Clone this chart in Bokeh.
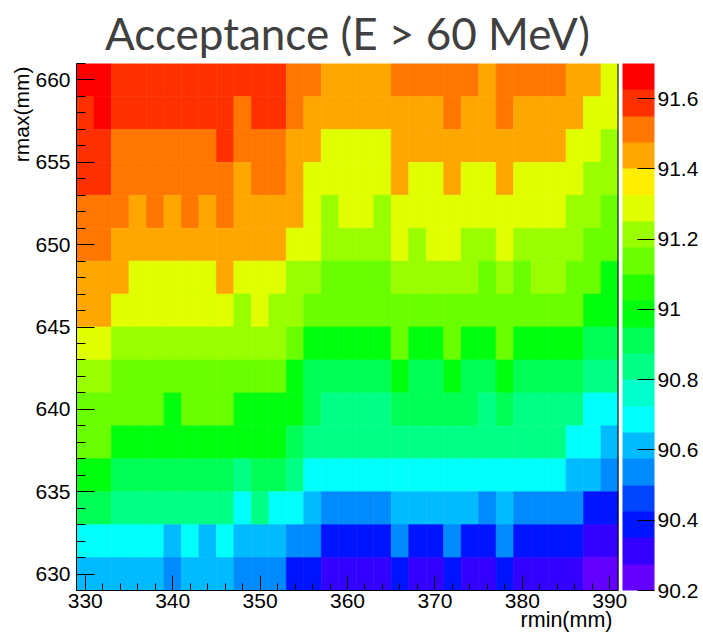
from bokeh.plotting import figure
from bokeh.models import (LinearColorMapper, ColorBar, FixedTicker, Range1d,
                          Title, Span, CustomJSTickFormatter, ColumnDataSource)
from bokeh.transform import transform
from bokeh.embed import file_html
from bokeh.resources import INLINE

# Bin centres (mm); every bin is 2 mm wide in both directions
rmin_bins = [330, 332, 334, 336, 338, 340, 342, 344, 346, 348, 350, 352, 354, 356, 358, 360,
             362, 364, 366, 368, 370, 372, 374, 376, 378, 380, 382, 384, 386, 388, 390]
rmax_bins = [660, 658, 656, 654, 652, 650, 648, 646, 644, 642, 640, 638, 636, 634, 632, 630]

# Acceptance (%) for E > 60 MeV, one list per rmax bin (top row first), indexed by rmin
acc_660 = [91.66, 91.66, 91.59, 91.59, 91.59, 91.59, 91.59, 91.59, 91.59, 91.59, 91.59, 91.59,
           91.51, 91.51, 91.44, 91.44, 91.44, 91.44, 91.51, 91.51, 91.51, 91.51, 91.51, 91.44,
           91.51, 91.51, 91.51, 91.51, 91.44, 91.44, 91.29]
acc_658 = [91.59, 91.66, 91.59, 91.59, 91.59, 91.59, 91.59, 91.59, 91.59, 91.51, 91.59, 91.59,
           91.51, 91.44, 91.44, 91.44, 91.44, 91.44, 91.44, 91.44, 91.44, 91.51, 91.44, 91.44,
           91.51, 91.44, 91.44, 91.44, 91.44, 91.29, 91.29]
acc_656 = [91.59, 91.59, 91.51, 91.51, 91.51, 91.51, 91.51, 91.51, 91.59, 91.51, 91.51, 91.51,
           91.44, 91.44, 91.29, 91.29, 91.29, 91.29, 91.44, 91.44, 91.44, 91.44, 91.44, 91.44,
           91.44, 91.44, 91.44, 91.44, 91.29, 91.29, 91.21]
acc_654 = [91.59, 91.59, 91.51, 91.51, 91.51, 91.51, 91.51, 91.51, 91.51, 91.44, 91.51, 91.51,
           91.44, 91.29, 91.29, 91.29, 91.29, 91.29, 91.44, 91.29, 91.29, 91.44, 91.29, 91.29,
           91.44, 91.29, 91.29, 91.29, 91.29, 91.21, 91.21]
acc_652 = [91.51, 91.51, 91.51, 91.44, 91.51, 91.44, 91.51, 91.44, 91.51, 91.44, 91.44, 91.44,
           91.44, 91.29, 91.21, 91.29, 91.29, 91.21, 91.29, 91.29, 91.29, 91.29, 91.29, 91.29,
           91.29, 91.29, 91.29, 91.29, 91.21, 91.21, 91.14]
acc_650 = [91.51, 91.51, 91.44, 91.44, 91.44, 91.44, 91.44, 91.44, 91.44, 91.44, 91.44, 91.44,
           91.29, 91.29, 91.21, 91.21, 91.21, 91.21, 91.29, 91.21, 91.29, 91.29, 91.21, 91.21,
           91.29, 91.21, 91.21, 91.21, 91.21, 91.14, 91.14]
acc_648 = [91.44, 91.44, 91.44, 91.29, 91.29, 91.29, 91.29, 91.29, 91.44, 91.29, 91.29, 91.29,
           91.21, 91.21, 91.14, 91.14, 91.14, 91.14, 91.21, 91.21, 91.21, 91.21, 91.21, 91.14,
           91.21, 91.14, 91.21, 91.21, 91.14, 91.14, 90.99]
acc_646 = [91.44, 91.44, 91.29, 91.29, 91.29, 91.29, 91.29, 91.29, 91.29, 91.21, 91.29, 91.21,
           91.21, 91.14, 91.14, 91.14, 91.14, 91.14, 91.14, 91.14, 91.14, 91.14, 91.14, 91.14,
           91.14, 91.14, 91.14, 91.14, 91.14, 90.99, 90.99]
acc_644 = [91.29, 91.29, 91.21, 91.21, 91.21, 91.21, 91.21, 91.21, 91.21, 91.21, 91.21, 91.21,
           91.14, 90.99, 90.99, 90.99, 90.99, 90.99, 91.14, 90.99, 90.99, 91.14, 90.99, 90.99,
           91.14, 90.99, 90.99, 90.99, 90.99, 90.91, 90.91]
acc_642 = [91.21, 91.21, 91.14, 91.14, 91.14, 91.14, 91.14, 91.14, 91.14, 91.14, 91.14, 91.14,
           90.99, 90.91, 90.91, 90.91, 90.91, 90.91, 90.99, 90.91, 90.91, 90.99, 90.91, 90.91,
           90.99, 90.91, 90.91, 90.91, 90.91, 90.84, 90.84]
acc_640 = [91.14, 91.14, 91.14, 91.14, 91.14, 90.99, 91.14, 91.14, 91.14, 90.99, 90.99, 90.99,
           90.99, 90.91, 90.84, 90.84, 90.84, 90.84, 90.91, 90.91, 90.91, 90.91, 90.91, 90.84,
           90.91, 90.84, 90.84, 90.84, 90.84, 90.69, 90.69]
acc_638 = [91.14, 91.14, 90.99, 90.99, 90.99, 90.99, 90.99, 90.99, 90.99, 90.99, 90.99, 90.99,
           90.91, 90.84, 90.84, 90.84, 90.84, 90.84, 90.84, 90.84, 90.84, 90.84, 90.84, 90.84,
           90.84, 90.84, 90.84, 90.84, 90.69, 90.69, 90.61]
acc_636 = [90.99, 90.99, 90.91, 90.91, 90.91, 90.91, 90.91, 90.91, 90.91, 90.84, 90.91, 90.91,
           90.84, 90.69, 90.69, 90.69, 90.69, 90.69, 90.69, 90.69, 90.69, 90.69, 90.69, 90.69,
           90.69, 90.69, 90.69, 90.69, 90.61, 90.61, 90.54]
acc_634 = [90.91, 90.91, 90.84, 90.84, 90.84, 90.84, 90.84, 90.84, 90.84, 90.69, 90.84, 90.69,
           90.69, 90.61, 90.54, 90.54, 90.54, 90.54, 90.61, 90.61, 90.61, 90.61, 90.61, 90.54,
           90.61, 90.54, 90.54, 90.54, 90.54, 90.39, 90.39]
acc_632 = [90.69, 90.69, 90.69, 90.69, 90.69, 90.61, 90.69, 90.61, 90.69, 90.61, 90.61, 90.61,
           90.54, 90.54, 90.39, 90.39, 90.39, 90.39, 90.54, 90.39, 90.39, 90.54, 90.39, 90.39,
           90.54, 90.39, 90.39, 90.39, 90.39, 90.31, 90.31]
acc_630 = [90.61, 90.61, 90.61, 90.61, 90.61, 90.54, 90.61, 90.61, 90.61, 90.54, 90.54, 90.54,
           90.39, 90.39, 90.31, 90.31, 90.31, 90.31, 90.39, 90.31, 90.31, 90.39, 90.31, 90.31,
           90.39, 90.31, 90.31, 90.31, 90.31, 90.24, 90.24]

acceptance_rows = [acc_660, acc_658, acc_656, acc_654, acc_652, acc_650, acc_648, acc_646,
                   acc_644, acc_642, acc_640, acc_638, acc_636, acc_634, acc_632, acc_630]

# Colour scale: 20 contour levels between these limits
z_min, z_max = 90.2, 91.7
palette = ["#6300FF", "#3300FF", "#0014FF", "#0044FF", "#008BFF",
           "#00BBFF", "#00FFFC", "#00FFCC", "#00FF85", "#00FF55",
           "#00FF0E", "#22FF00", "#69FF00", "#99FF00", "#E0FF00",
           "#FFEE00", "#FFA700", "#FF7700", "#FF3000", "#FF0000"]
z_ticks = [90.2, 90.4, 90.6, 90.8, 91.0, 91.2, 91.4, 91.6]

x_ticks = [330, 340, 350, 360, 370, 380, 390]
y_ticks = [630, 635, 640, 645, 650, 655, 660]

# Flatten into one row per cell
xs, ys, zs = [], [], []
for rmax, row in zip(rmax_bins, acceptance_rows):
    for rmin, z in zip(rmin_bins, row):
        xs.append(rmin)
        ys.append(rmax)
        zs.append(z)
source = ColumnDataSource(dict(rmin=xs, rmax=ys, acc=zs))

mapper = LinearColorMapper(palette=palette, low=z_min, high=z_max)

tick_font = "Liberation Sans"

p = figure(frame_width=542, frame_height=527,
           x_range=Range1d(329, 391), y_range=Range1d(629, 661),
           output_backend="svg", toolbar_location=None,
           min_border_left=76, min_border_top=63, min_border_bottom=47,
           min_border_right=0, background_fill_color="white",
           border_fill_color="white")
p.outline_line_color = None
p.grid.visible = False

p.rect(x="rmin", y="rmax", width=2, height=2, source=source,
       fill_color=transform("acc", mapper), line_color=transform("acc", mapper),
       line_width=0.6)

# Axes: ticks drawn inside the frame
p.xaxis.ticker = FixedTicker(ticks=x_ticks, minor_ticks=list(range(330, 391, 2)))
p.yaxis.ticker = FixedTicker(ticks=y_ticks, minor_ticks=list(range(629, 662, 1)))
for ax in (p.xaxis[0], p.yaxis[0]):
    ax.axis_line_color = "black"
    ax.major_tick_line_color = "black"
    ax.minor_tick_line_color = "black"
    ax.major_tick_out = 0
    ax.minor_tick_out = 0
    ax.major_label_text_font = tick_font
    ax.major_label_text_font_size = "21px"
    ax.major_label_text_color = "black"
p.xaxis.major_tick_in = 15
p.xaxis.minor_tick_in = 7
p.xaxis.major_label_standoff = 3
p.yaxis.major_tick_in = 18
p.yaxis.minor_tick_in = 9
p.yaxis.major_label_standoff = 6

# Right edge of the frame
p.add_layout(Span(location=391, dimension="height", line_color="black", line_width=2))

# Palette axis
color_bar = ColorBar(color_mapper=mapper, ticker=FixedTicker(ticks=z_ticks),
                     formatter=CustomJSTickFormatter(code="return tick.toFixed(1).replace(/\\.0$/, '');"),
                     width=32, height=527, padding=0, margin=0, location=(4, 0),
                     label_standoff=3, major_tick_in=17, major_tick_out=0,
                     major_tick_line_color="black", minor_tick_line_color=None,
                     bar_line_color=None, border_line_color=None,
                     background_fill_color="white",
                     major_label_text_font=tick_font,
                     major_label_text_font_size="21px",
                     major_label_text_color="black")
p.add_layout(color_bar, "right")

# Titles
p.title.text = "Acceptance (E > 60 MeV)"
p.title.align = "center"
p.title.text_font = "Lato"
p.title.text_font_size = "44px"
p.title.text_font_style = "normal"
p.title.text_color = "#404040"
p.title.standoff = 9

p.add_layout(Title(text="rmin(mm)", align="right", offset=6, standoff=-10,
                   text_font=tick_font, text_font_size="21.5px",
                   text_font_style="normal", text_color="black"), "below")
p.add_layout(Title(text="rmax(mm)", align="right", standoff=0, offset=3,
                   text_font=tick_font, text_font_size="21px",
                   text_font_style="normal", text_color="black"), "left")

open("out.html", "w").write(file_html(p, INLINE))
